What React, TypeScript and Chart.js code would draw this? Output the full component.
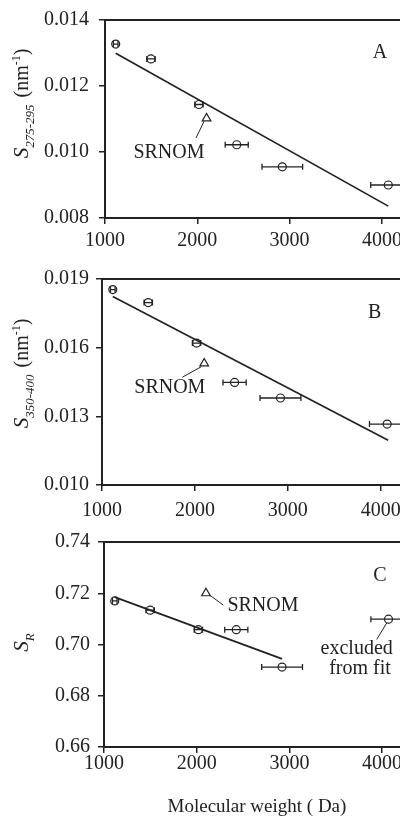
import React, { useEffect, useRef } from "react";
import { Chart, registerables } from "chart.js";

Chart.register(...registerables);

const FONT = "'Liberation Serif', 'Times New Roman', serif";
const INK = "#222";
const CANVAS_W = 420;

// ---- data ----
const molWeight = [1116, 1498, 2018, 2427, 2921, 4069];
const molWeightErr = [25, 45, 45, 125, 220, 190];
const slope275 = [0.01327, 0.01282, 0.01144, 0.01022, 0.00955, 0.009];
const slope350 = [0.01854, 0.01797, 0.0162, 0.01448, 0.0138, 0.01266];
const slopeRatio = [0.717, 0.7134, 0.7058, 0.7058, 0.6912, 0.7099];
const srnomMw = [2100];
const srnom275 = [0.01102];
const srnom350 = [0.01531];
const srnomRatio = [0.72];
const fit275X = [1116, 4069];
const fit275Y = [0.01299, 0.00836];
const fit350X = [1116, 4080];
const fit350Y = [0.01824, 0.01196];
const fitRatioX = [1116, 2921];
const fitRatioY = [0.7185, 0.6944];
const xTickValues = [1000, 2000, 3000, 4000];
const yTicks275 = [0.008, 0.01, 0.012, 0.014];
const yTicks350 = [0.01, 0.013, 0.016, 0.019];
const yTicksRatio = [0.66, 0.68, 0.7, 0.72, 0.74];
const xAxisTitle = "Molecular weight ( Da)";

type Part = { text: string; font: string; dy?: number; gapAfter?: number };

const big = (s: number) => `${s}px ${FONT}`;
const ital = (s: number) => `italic ${s}px ${FONT}`;

const panels = [
  {
    top: 0, height: 262, padTop: 16, xHeight: 44, left: 105, padRight: 10.4, xPad: 7, yPad: 10,
    yMin: 0.008, yMax: 0.014, yTicks: yTicks275, decimals: 3,
    ys: slope275, srnomY: srnom275, fitX: fit275X, fitY: fit275Y,
    title: [
      { text: "S", font: ital(21) },
      { text: "275-295", font: ital(13), dy: 6, gapAfter: 7 },
      { text: "(nm", font: big(20) },
      { text: "-1", font: big(12), dy: -8 },
      { text: ")", font: big(20) },
    ] as Part[],
    titleCx: 28, titleCy: 103.5,
    notes: [
      { text: "A", x: 3980, y: 0.013 },
      { text: "SRNOM", x: 1693, y: 0.00998 },
    ],
    leaders: [[1986, 0.010424, 2073, 0.010926]],
    xTitle: false,
  },
  {
    top: 262, height: 262, padTop: 14, xHeight: 39, left: 102, padRight: 11.4, xPad: 9.5, yPad: 7,
    yMin: 0.01, yMax: 0.019, yTicks: yTicks350, decimals: 3,
    ys: slope350, srnomY: srnom350, fitX: fit350X, fitY: fit350Y,
    title: [
      { text: "S", font: ital(21) },
      { text: "350-400", font: ital(13), dy: 6, gapAfter: 7 },
      { text: "(nm", font: big(20) },
      { text: "-1", font: big(12), dy: -8 },
      { text: ")", font: big(20) },
    ] as Part[],
    titleCx: 28, titleCy: 111.5,
    notes: [
      { text: "B", x: 3935, y: 0.01754 },
      { text: "SRNOM", x: 1730, y: 0.01423 },
    ],
    leaders: [[1865, 0.01471, 2070, 0.01517]],
    xTitle: false,
  },
  {
    top: 524, height: 294, padTop: 13, xHeight: 71, left: 104, padRight: 10.1, xPad: 1, yPad: 8,
    yMin: 0.66, yMax: 0.74, yTicks: yTicksRatio, decimals: 2,
    ys: slopeRatio, srnomY: srnomRatio, fitX: fitRatioX, fitY: fitRatioY,
    title: [
      { text: "S", font: ital(21) },
      { text: "R", font: ital(13), dy: 6 },
    ] as Part[],
    titleCx: 28, titleCy: 118.5,
    notes: [
      { text: "C", x: 3977, y: 0.7268 },
      { text: "SRNOM", x: 2715, y: 0.715 },
      { text: "excluded", x: 3726, y: 0.6985 },
      { text: "from fit", x: 3762, y: 0.6906 },
    ],
    leaders: [
      [2143, 0.7192, 2287, 0.7154],
      [3942, 0.702, 4050, 0.7084],
    ],
    xTitle: true,
  },
];

function drawRotated(ctx: CanvasRenderingContext2D, parts: Part[], cx: number, cy: number) {
  ctx.save();
  ctx.translate(cx, cy);
  ctx.rotate(-Math.PI / 2);
  ctx.textAlign = "left";
  ctx.textBaseline = "alphabetic";
  ctx.fillStyle = INK;
  let total = 0;
  for (const p of parts) {
    ctx.font = p.font;
    total += ctx.measureText(p.text).width + (p.gapAfter || 0);
  }
  let x = -total / 2;
  for (const p of parts) {
    ctx.font = p.font;
    ctx.fillText(p.text, x, p.dy || 0);
    x += ctx.measureText(p.text).width + (p.gapAfter || 0);
  }
  ctx.restore();
}

function makeDecor(cfg: any) {
  return {
    id: "panelDecor",
    afterDatasetsDraw(chart: any) {
      const ctx: CanvasRenderingContext2D = chart.ctx;
      const xs = chart.scales.x;
      const ys = chart.scales.y;
      const area = chart.chartArea;
      ctx.save();
      // frame top & right
      ctx.strokeStyle = INK;
      ctx.lineWidth = 2;
      ctx.beginPath();
      ctx.moveTo(area.left - 1, area.top);
      ctx.lineTo(area.right, area.top);
      ctx.lineTo(area.right, area.bottom);
      ctx.stroke();
      // error bars
      ctx.lineWidth = 1.3;
      chart.data.datasets.forEach((ds: any) => {
        if (!ds.xErr) return;
        ds.data.forEach((pt: any, i: number) => {
          const e = ds.xErr[i];
          const x1 = xs.getPixelForValue(pt.x - e);
          const x2 = xs.getPixelForValue(pt.x + e);
          const py = ys.getPixelForValue(pt.y);
          const cap = 3;
          ctx.beginPath();
          ctx.moveTo(x1, py);
          ctx.lineTo(x2, py);
          ctx.moveTo(x1, py - cap);
          ctx.lineTo(x1, py + cap);
          ctx.moveTo(x2, py - cap);
          ctx.lineTo(x2, py + cap);
          ctx.stroke();
        });
      });
      // leaders
      ctx.lineWidth = 1;
      for (const l of cfg.leaders) {
        ctx.beginPath();
        ctx.moveTo(xs.getPixelForValue(l[0]), ys.getPixelForValue(l[1]));
        ctx.lineTo(xs.getPixelForValue(l[2]), ys.getPixelForValue(l[3]));
        ctx.stroke();
      }
      // notes
      ctx.fillStyle = INK;
      ctx.font = big(20);
      ctx.textAlign = "center";
      ctx.textBaseline = "middle";
      for (const n of cfg.notes) {
        ctx.fillText(n.text, xs.getPixelForValue(n.x), ys.getPixelForValue(n.y));
      }
      // y title
      drawRotated(ctx, cfg.title, cfg.titleCx, cfg.titleCy);
      // x title
      if (cfg.xTitle) {
        ctx.font = big(19);
        ctx.textAlign = "center";
        ctx.textBaseline = "middle";
        ctx.fillText(xAxisTitle, (area.left + area.right) / 2, 283);
      }
      ctx.restore();
    },
  };
}

function Panel({ cfg }: { cfg: any }) {
  const ref = useRef<HTMLCanvasElement | null>(null);
  useEffect(() => {
    if (!ref.current) return;
    const gridOpts = {
      drawOnChartArea: false,
      drawTicks: true,
      tickLength: 6,
      color: INK,
      lineWidth: 1.5,
    };
    const chart = new Chart(ref.current, {
      type: "scatter",
      data: {
        datasets: [
          {
            label: "samples",
            data: molWeight.map((x, i) => ({ x, y: cfg.ys[i] })),
            pointStyle: "circle",
            pointRadius: 4,
            pointBorderWidth: 1.2,
            borderColor: INK,
            backgroundColor: "rgba(0,0,0,0)",
            xErr: molWeightErr,
          } as any,
          {
            label: "SRNOM",
            data: srnomMw.map((x, i) => ({ x, y: cfg.srnomY[i] })),
            pointStyle: "triangle",
            pointRadius: 5,
            pointBorderWidth: 1.2,
            borderColor: INK,
            backgroundColor: "rgba(0,0,0,0)",
          },
          {
            label: "fit",
            data: cfg.fitX.map((x: number, i: number) => ({ x, y: cfg.fitY[i] })),
            showLine: true,
            pointRadius: 0,
            borderColor: INK,
            borderWidth: 1.7,
            backgroundColor: INK,
          },
        ],
      },
      options: {
        responsive: false,
        animation: false,
        events: [],
        layout: { padding: { top: cfg.padTop, right: cfg.padRight, left: 0, bottom: 0 } },
        plugins: { legend: { display: false }, tooltip: { enabled: false } },
        scales: {
          x: {
            type: "linear",
            min: 1000,
            max: 4300,
            afterBuildTicks: (s: any) => {
              s.ticks = xTickValues.map((v) => ({ value: v }));
            },
            afterFit: (s: any) => {
              s.height = cfg.xHeight;
            },
            grid: gridOpts,
            border: { display: true, color: INK, width: 2 },
            ticks: {
              color: INK,
              font: { family: FONT, size: 20, lineHeight: 1 },
              padding: cfg.xPad,
              maxRotation: 0,
              autoSkip: false,
              callback: (v: any) => String(v),
            },
          },
          y: {
            type: "linear",
            min: cfg.yMin,
            max: cfg.yMax,
            afterBuildTicks: (s: any) => {
              s.ticks = cfg.yTicks.map((v: number) => ({ value: v }));
            },
            afterFit: (s: any) => {
              s.width = cfg.left;
            },
            grid: gridOpts,
            border: { display: true, color: INK, width: 2 },
            ticks: {
              color: INK,
              font: { family: FONT, size: 20, lineHeight: 1 },
              padding: cfg.yPad,
              autoSkip: false,
              callback: (v: any) => Number(v).toFixed(cfg.decimals),
            },
          },
        },
      },
      plugins: [makeDecor(cfg)],
    } as any);
    return () => chart.destroy();
  }, [cfg]);
  return (
    <canvas
      ref={ref}
      width={CANVAS_W}
      height={cfg.height}
      style={{ position: "absolute", left: 0, top: cfg.top, display: "block" }}
    />
  );
}

export default function App() {
  return (
    <div
      style={{
        position: "absolute",
        left: 0,
        top: 0,
        width: 400,
        height: 818,
        overflow: "hidden",
        background: "#fff",
      }}
    >
      {panels.map((p, i) => (
        <Panel key={i} cfg={p} />
      ))}
    </div>
  );
}
